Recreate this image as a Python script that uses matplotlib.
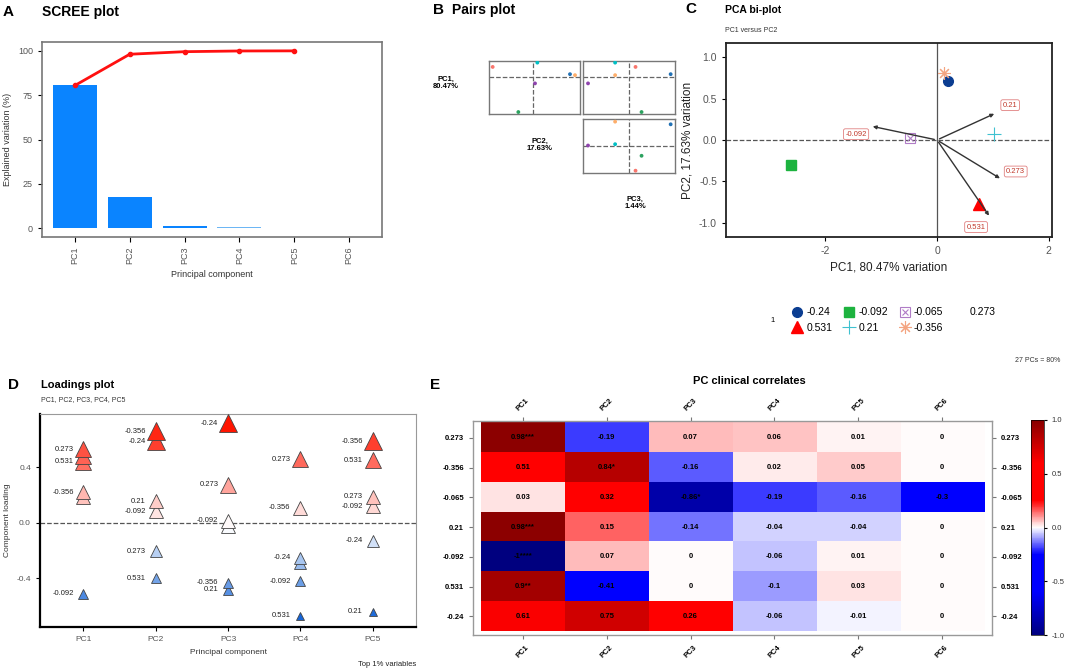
import numpy as np
import matplotlib
matplotlib.use('Agg')
import matplotlib.pyplot as plt
from matplotlib.colors import LinearSegmentedColormap, TwoSlopeNorm
from matplotlib.lines import Line2D

plt.rcParams['font.family'] = ['Liberation Sans', 'DejaVu Sans']
plt.rcParams['axes.unicode_minus'] = False

# ---- data ----
pcs = ['PC1', 'PC2', 'PC3', 'PC4', 'PC5', 'PC6']
scree_var = [80.47, 17.63, 1.44, 0.40, 0.06]
scree_cum = [80.47, 98.10, 99.54, 99.94, 100.0]

groups = ['-0.24', '-0.092', '-0.065', '0.531', '0.21', '-0.356', '0.273']
# PCA scores (bi-plot)
bi_pc1 = [0.20, -2.61, -0.49, 0.75, 1.02, 0.13]
bi_pc2 = [0.71, -0.30, 0.03, -0.77, 0.07, 0.81]
# loading vectors
vec_names = ['0.21', '-0.092', '0.273', '0.531']
vec_x = [1.07, -1.20, 1.17, 0.96]
vec_y = [0.33, 0.17, -0.48, -0.94]
vec_lab_x = [1.31, -1.45, 1.41, 0.70]
vec_lab_y = [0.42, 0.07, -0.38, -1.05]

# pairs plot (same sample order as bi-plot)
pair_a = [1.10, -0.45, 0.05, -1.22, 0.12, 1.25]
pair_b = [0.08, -1.07, -0.20, 0.30, 0.43, 0.05]
pair_c = [1.24, 0.37, -1.23, 0.19, -0.42, -0.42]
pair_d = [0.65, -0.30, 0.01, -0.75, 0.05, 0.73]

# loadings plot
load_pc = [1, 1, 1, 1, 1, 1,
           2, 2, 2, 2, 2, 2,
           3, 3, 3, 3, 3, 3,
           4, 4, 4, 4, 4, 4,
           5, 5, 5, 5, 5, 5]
load_val = [0.53, 0.48, 0.44, 0.22, 0.19, -0.51,
            0.66, 0.59, 0.156, 0.084, -0.204, -0.40,
            0.72, 0.276, 0.015, -0.02, -0.43, -0.48,
            0.46, 0.108, -0.25, -0.29, -0.42, -0.668,
            0.59, 0.45, 0.19, 0.12, -0.13, -0.64]
load_lab = ['0.273', '', '0.531', '-0.356', '', '-0.092',
            '-0.356', '-0.24', '0.21', '-0.092', '0.273', '0.531',
            '-0.24', '0.273', '-0.092', '', '-0.356', '0.21',
            '0.273', '-0.356', '-0.24', '', '-0.092', '0.531',
            '-0.356', '0.531', '0.273', '-0.092', '-0.24', '0.21']

# clinical correlates
corr_rows = ['0.273', '-0.356', '-0.065', '0.21', '-0.092', '0.531', '-0.24']
corr_vals = np.array([
    [0.98, -0.19, 0.07, 0.06, 0.01, 0.004],
    [0.51, 0.84, -0.16, 0.02, 0.05, 0.0],
    [0.03, 0.32, -0.86, -0.19, -0.16, -0.30],
    [0.98, 0.15, -0.14, -0.04, -0.04, 0.0],
    [-1.0, 0.07, 0.0, -0.06, 0.01, 0.004],
    [0.90, -0.41, 0.0, -0.10, 0.03, 0.0],
    [0.61, 0.75, 0.26, -0.06, -0.01, 0.0]])
corr_text = [
    ['0.98***', '-0.19', '0.07', '0.06', '0.01', '0'],
    ['0.51', '0.84*', '-0.16', '0.02', '0.05', '0'],
    ['0.03', '0.32', '-0.86*', '-0.19', '-0.16', '-0.3'],
    ['0.98***', '0.15', '-0.14', '-0.04', '-0.04', '0'],
    ['-1****', '0.07', '0', '-0.06', '0.01', '0'],
    ['0.9**', '-0.41', '0', '-0.1', '0.03', '0'],
    ['0.61', '0.75', '0.26', '-0.06', '-0.01', '0']]

W, H = 1065, 672
fig = plt.figure(figsize=(W / 100, H / 100), dpi=100)


def px_axes(x0, y0, x1, y1):
    return fig.add_axes([x0 / W, 1 - y1 / H, (x1 - x0) / W, (y1 - y0) / H])


def ftext(x, y, s, **kw):
    fig.text(x / W, 1 - y / H, s, **kw)


grey = '#555555'

# ---- A: scree ----
axA = px_axes(42, 42, 382, 237)
bar_cols = ['#0A84FF', '#0A84FF', '#0A84FF', '#6DB6F4', '#DCEBF7']
xs = np.arange(1, len(scree_var) + 1)
axA.bar(xs, scree_var, width=0.8, color=bar_cols)
axA.plot(xs, scree_cum, color='#FF1010', lw=2, marker='o', ms=3)
axA.set_xlim(0.4, 6.6)
axA.set_ylim(-5, 105)
axA.set_xticks(range(1, 7))
axA.set_xticklabels(pcs, rotation=90, fontsize=6.5, color=grey)
axA.set_yticks([0, 25, 50, 75, 100])
axA.tick_params(axis='y', labelsize=6.5, labelcolor=grey, length=3)
axA.set_xlabel('Principal component', fontsize=6.5, color='#333')
axA.set_ylabel('Explained variation (%)', fontsize=6.5, color='#333')
for s in axA.spines.values():
    s.set_color('#777')
    s.set_linewidth(1.2)
ftext(3, 12, 'A', fontsize=11, fontweight='bold', va='center')
ftext(42, 12, 'SCREE plot', fontsize=10, fontweight='bold', va='center')

# ---- B: pairs ----
pair_cols = ['#2171B5', '#2CA25F', '#8E44AD', '#F8766D', '#00BFC4', '#FDAE6B']
boxes = [((489, 61, 580, 114), pair_a, pair_b, (-1.33, 1.40), (-1.13, 0.48)),
         ((583, 61, 675, 114), pair_c, pair_b, (-1.38, 1.37), (-1.13, 0.48)),
         ((583, 119, 675, 173), pair_c, pair_d, (-1.38, 1.37), (-0.82, 0.81))]
for pos, bx, by, xl, yl in boxes:
    ax = px_axes(*pos)
    ax.axhline(0, ls='--', color='#666', lw=0.9)
    ax.axvline(0, ls='--', color='#666', lw=0.9)
    ax.scatter(bx, by, s=3, c=pair_cols, zorder=3)
    ax.set_xlim(*xl)
    ax.set_ylim(*yl)
    ax.set_xticks([])
    ax.set_yticks([])
    for s in ax.spines.values():
        s.set_color('#777')
        s.set_linewidth(1)
ftext(446, 83, 'PC1,\n80.47%', fontsize=5.5, fontweight='bold', ha='center', va='center')
ftext(540, 145, 'PC2,\n17.63%', fontsize=5.5, fontweight='bold', ha='center', va='center')
ftext(635, 203, 'PC3,\n1.44%', fontsize=5.5, fontweight='bold', ha='center', va='center')
ftext(433, 10, 'B', fontsize=11, fontweight='bold', va='center')
ftext(452, 10, 'Pairs plot', fontsize=10, fontweight='bold', va='center')

# ---- C: bi-plot ----
axC = px_axes(726, 43, 1052, 237)
axC.axhline(0, ls='--', color='#555', lw=0.9)
axC.axvline(0, color='#555', lw=0.9)
mk = [dict(marker='o', color='#0B3D91', ms=7, ls=''),
      dict(marker='s', color='#1DB33F', ms=6.5, ls=''),
      dict(marker='s', mfc='none', mec='#B07CC6', ms=6.5, ls='', mew=0.8),
      dict(marker='^', color='#FF0000', ms=8, ls=''),
      dict(marker='+', color='#3FC1D0', ms=10, ls='', mew=0.8),
      dict(marker=(8, 2, 0), color='#F4A582', ms=9, ls='', mew=0.8)]
for i in range(len(bi_pc1)):
    axC.plot(bi_pc1[i], bi_pc2[i], zorder=3, **mk[i])
axC.plot(bi_pc1[2], bi_pc2[2], marker='x', color='#B07CC6', ms=5, mew=0.8, ls='', zorder=3)
for i in range(len(vec_names)):
    axC.annotate('', xy=(vec_x[i], vec_y[i]), xytext=(0, 0),
                 arrowprops=dict(arrowstyle='-|>', color='#333', lw=1, mutation_scale=5))
    axC.text(vec_lab_x[i], vec_lab_y[i], vec_names[i], fontsize=5.5, color='#C0392B',
             ha='center', va='center',
             bbox=dict(boxstyle='round,pad=0.25', fc='white', ec='#E08080', lw=0.6))
axC.set_xlim(-3.78, 2.06)
axC.set_ylim(-1.17, 1.17)
axC.set_xticks([-2, 0, 2])
axC.set_yticks([-1, -0.5, 0, 0.5, 1])
axC.set_yticklabels(['-1.0', '-0.5', '0.0', '0.5', '1.0'])
axC.tick_params(labelsize=7.5, labelcolor=grey, length=3)
axC.set_xlabel('PC1, 80.47% variation', fontsize=8.5, color='#222')
axC.set_ylabel('PC2, 17.63% variation', fontsize=8.5, color='#222')
for s in axC.spines.values():
    s.set_color('#222')
    s.set_linewidth(1.3)
ftext(685, 9, 'C', fontsize=11, fontweight='bold', va='center')
ftext(725, 10, 'PCA bi-plot', fontsize=7.5, fontweight='bold', va='center')
ftext(725, 30, 'PC1 versus PC2', fontsize=5, color='#333', va='center')

handles = [Line2D([], [], **mk[0]), Line2D([], [], **mk[3]),
           Line2D([], [], **mk[1]), Line2D([], [], **mk[4]),
           (Line2D([], [], **mk[2]), Line2D([], [], marker='x', color='#B07CC6', ms=5, mew=0.8, ls='')),
           Line2D([], [], **mk[5]),
           Line2D([], [], ls='', marker='')]
labels = [groups[0], groups[3], groups[1], groups[4], groups[2], groups[5], groups[6]]
fig.legend(handles, labels, ncol=4, loc='center', bbox_to_anchor=(893 / W, 1 - 320 / H),
           frameon=False, fontsize=7.5, handletextpad=0.3, columnspacing=1.0,
           handlelength=1.2, labelspacing=0.5)
ftext(770, 320, '1', fontsize=5.5, va='center')
ftext(1060, 361, '27 PCs = 80%', fontsize=5, ha='right', va='center', color='#333')

# ---- D: loadings ----
axD = px_axes(40, 414, 416, 627)
axD.axhline(0, ls='--', color='#555', lw=0.9)
lcmap = LinearSegmentedColormap.from_list('lo', ['#1565D8', '#FFFFFF', '#FF1500'])
lnorm = TwoSlopeNorm(vmin=-0.67, vcenter=0, vmax=0.72)
order = np.argsort(load_val)
for i in order:
    v = load_val[i]
    axD.plot(load_pc[i], v, marker='^', ls='', ms=9.5 + 5 * v,
             mfc=lcmap(lnorm(v)), mec='#444', mew=0.6, zorder=3)
    if load_lab[i]:
        axD.annotate(load_lab[i], (load_pc[i], v), xytext=(-7, 0), textcoords='offset points',
                     ha='right', va='center', fontsize=5.5, color='#222')
axD.set_xlim(0.4, 5.6)
axD.set_ylim(-0.75, 0.785)
axD.set_xticks(range(1, 6))
axD.set_xticklabels(pcs[:5])
axD.set_yticks([-0.4, 0, 0.4])
axD.set_yticklabels(['-0.4', '0.0', '0.4'])
axD.tick_params(labelsize=6, labelcolor=grey, length=3)
axD.set_xlabel('Principal component', fontsize=6, color='#333')
axD.set_ylabel('Component loading', fontsize=6, color='#333')
axD.spines['top'].set_color('#999')
axD.spines['right'].set_color('#999')
axD.spines['left'].set_linewidth(1.6)
axD.spines['bottom'].set_linewidth(1.6)
ftext(8, 385, 'D', fontsize=11, fontweight='bold', va='center')
ftext(41, 385, 'Loadings plot', fontsize=8, fontweight='bold', va='center')
ftext(41, 400, 'PC1, PC2, PC3, PC4, PC5', fontsize=5, color='#333', va='center')
ftext(416, 665, 'Top 1% variables', fontsize=5.5, ha='right', va='center', color='#222')

# ---- E: heatmap ----
axE = px_axes(473, 421, 992, 635)
hcmap = LinearSegmentedColormap.from_list(
    'corr', [(0.0, '#00007F'), (0.2, '#0000FF'), (0.375, '#0000FF'), (0.5, '#FFFFFF'),
             (0.625, '#FF0000'), (0.8, '#FF0000'), (1.0, '#880000')])
im = axE.imshow(corr_vals, cmap=hcmap, vmin=-1, vmax=1, aspect='auto')
for r in range(corr_vals.shape[0]):
    for c in range(corr_vals.shape[1]):
        axE.text(c, r, corr_text[r][c], ha='center', va='center', fontsize=5.5,
                 fontweight='bold', color='black')
axE.set_xlim(-0.595, 5.595)
axE.set_ylim(6.63, -0.57)
axE.set_xticks(range(6))
axE.set_xticklabels(pcs, rotation=45, fontsize=5.5, fontweight='bold')
axE.set_yticks(range(7))
axE.set_yticklabels(corr_rows, fontsize=5.5, fontweight='bold')
axE.tick_params(top=True, labeltop=True, right=True, labelright=True, length=3, color='#777')
for lab in axE.get_xticklabels():
    lab.set_rotation(45)
for s in axE.spines.values():
    s.set_color('#999')
    s.set_linewidth(1)
cax = px_axes(1031, 420, 1044, 635)
cb = fig.colorbar(im, cax=cax, ticks=[-1, -0.5, 0, 0.5, 1])
cb.ax.set_yticklabels(['-1.0', '-0.5', '0.0', '0.5', '1.0'])
cb.ax.tick_params(labelsize=5.5, length=2, labelcolor='#333')
cb.outline.set_linewidth(0.5)
ftext(430, 385, 'E', fontsize=11, fontweight='bold', va='center')
ftext(749, 381, 'PC clinical correlates', fontsize=8, fontweight='bold', ha='center', va='center')

fig.savefig('out.png', dpi=100)
